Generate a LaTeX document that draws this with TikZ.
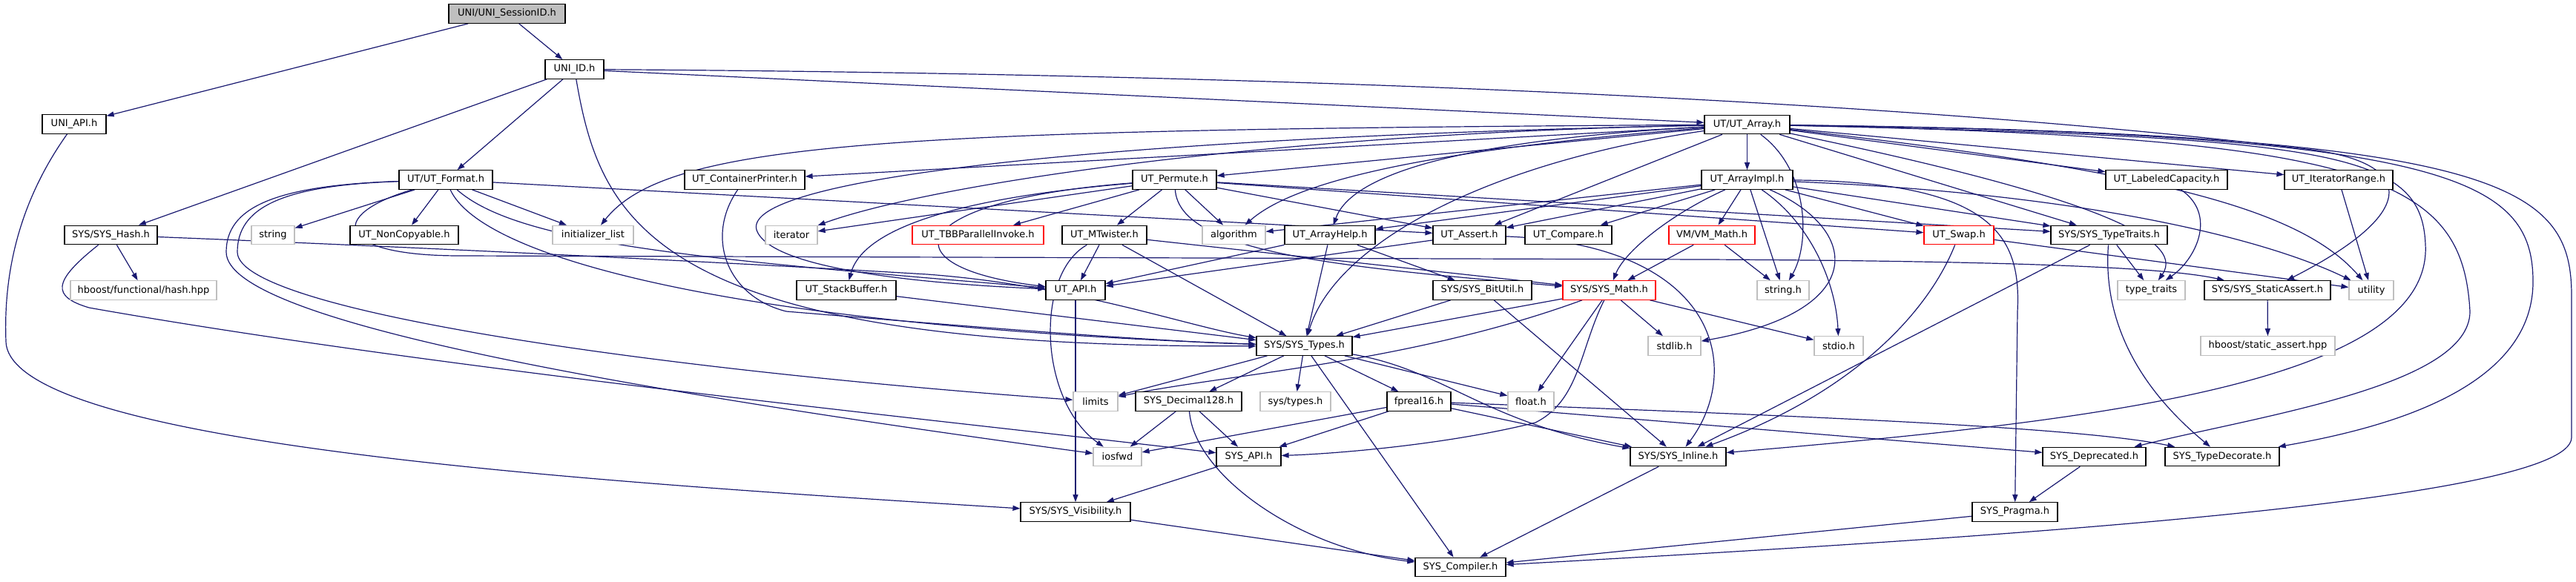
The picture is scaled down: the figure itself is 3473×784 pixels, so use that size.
\documentclass[tikz,border=0pt]{standalone}
\usepackage{fontspec}
\setmainfont{DejaVu Sans}
\usepackage{tikz}
\usetikzlibrary{arrows.meta,backgrounds}
\definecolor{edgeblue}{HTML}{191970}
\definecolor{sysgray}{HTML}{BFBFBF}
\newcommand{\Header}[6][hdr]{
\node [#1,minimum width=#5pt] (#2) at (#3,#4) {#6};
}
\tikzset{
hdr/.style={draw=black,text=black,line width=1.2pt,fill=white,minimum height=25.5pt,inner sep=2pt,font=\fontsize{13}{15}\selectfont},
syshdr/.style={hdr,draw=sysgray},
cuthdr/.style={hdr,draw=red},
roothdr/.style={hdr,fill=sysgray},
dep/.style={edgeblue,line width=1.2pt,-{Triangle[length=10pt,width=7pt]}}
}

\begin{document}
\begin{tikzpicture}[x=1pt,y=-1pt]
\useasboundingbox (0,0) rectangle (3473,784);
\Header[roothdr]{root}{683.5}{18.5}{157}{UNI/UNI\_SessionID.h}
\Header{uniid}{774.5}{93.5}{79}{UNI\_ID.h}
\Header{uniapi}{100}{167.5}{86}{UNI\_API.h}
\Header{utarray}{2355.5}{168}{115}{UT/UT\_Array.h}
\Header{utformat}{601}{242.5}{126}{UT/UT\_Format.h}
\Header{contprinter}{1004}{242.5}{162}{UT\_ContainerPrinter.h}
\Header{permute}{1583.5}{242.5}{113}{UT\_Permute.h}
\Header{arrayimpl}{2355.5}{242.5}{123}{UT\_ArrayImpl.h}
\Header{labeled}{2921}{242.5}{164}{UT\_LabeledCapacity.h}
\Header{iterrange}{3153}{242.5}{146}{UT\_IteratorRange.h}
\Header{syshash}{149.5}{317}{125}{SYS/SYS\_Hash.h}
\Header[syshdr]{stringn}{368}{317}{58}{string}
\Header{noncopy}{545}{317}{146}{UT\_NonCopyable.h}
\Header[syshdr]{initlist}{799.5}{317}{109}{initializer\_list}
\Header[syshdr]{iterator}{1067}{317}{70}{iterator}
\Header[cuthdr]{tbb}{1318.5}{317}{177}{UT\_TBBParallelInvoke.h}
\Header{mtwister}{1489}{317}{114}{UT\_MTwister.h}
\Header[syshdr]{algorithm}{1663.5}{317}{85}{algorithm}
\Header{arrayhelp}{1793}{317}{122}{UT\_ArrayHelp.h}
\Header{assert}{1981}{317}{98}{UT\_Assert.h}
\Header{compare}{2114.5}{317}{117}{UT\_Compare.h}
\Header[cuthdr]{vmmath}{2308}{317}{116}{VM/VM\_Math.h}
\Header[cuthdr]{swap}{2641}{317}{94}{UT\_Swap.h}
\Header{typetraits}{2843.5}{317}{157}{SYS/SYS\_TypeTraits.h}
\Header[syshdr]{hbhash}{193.5}{391.5}{197}{hboost/functional/hash.hpp}
\Header{stackbuf}{1141}{391.5}{134}{UT\_StackBuffer.h}
\Header{utapi}{1450}{391.5}{80}{UT\_API.h}
\Header{bitutil}{1998.5}{391.5}{133}{SYS/SYS\_BitUtil.h}
\Header[cuthdr]{sysmath}{2169.5}{391.5}{125}{SYS/SYS\_Math.h}
\Header[syshdr]{stringh}{2404}{391.5}{70}{string.h}
\Header[syshdr]{typetraitsh}{2900.5}{391.5}{91}{type\_traits}
\Header{staticassert}{3057}{391.5}{170}{SYS/SYS\_StaticAssert.h}
\Header[syshdr]{utility}{3197}{391.5}{60}{utility}
\Header{systypes}{1758.5}{466.5}{129}{SYS/SYS\_Types.h}
\Header[syshdr]{stdlib}{2257.5}{466.5}{71}{stdlib.h}
\Header[syshdr]{stdio}{2479}{466.5}{66}{stdio.h}
\Header[syshdr]{hbstatic}{3057.5}{466.5}{181}{hboost/static\_assert.hpp}
\Header[syshdr]{limits}{1477}{541.5}{60}{limits}
\Header{decimal}{1602.5}{541.5}{143}{SYS\_Decimal128.h}
\Header[syshdr]{systypesh}{1746.5}{541.5}{95}{sys/types.h}
\Header{fpreal}{1913}{541.5}{86}{fpreal16.h}
\Header[syshdr]{floath}{2064}{541.5}{62}{float.h}
\Header[syshdr]{iosfwd}{1506.5}{616}{65}{iosfwd}
\Header{sysapi}{1683.5}{616}{87}{SYS\_API.h}
\Header{inline}{2262.5}{616}{129}{SYS/SYS\_Inline.h}
\Header{deprecated}{2823.5}{616}{139}{SYS\_Deprecated.h}
\Header{typedecorate}{2996}{616}{154}{SYS\_TypeDecorate.h}
\Header{visibility}{1450}{690.5}{148}{SYS/SYS\_Visibility.h}
\Header{pragma}{2716.5}{690.5}{115}{SYS\_Pragma.h}
\Header{compiler}{1969}{765}{122}{SYS\_Compiler.h}

\begin{pgfonlayer}{background}
\draw [dep] (root) -- (uniapi);
\draw [dep] (root) -- (uniid);
\draw [dep] (uniapi) .. controls (20,280) and (5,380) .. (8,460) .. controls (10,600) and (800,650) .. (visibility);
\draw [dep] (uniid) -- (utformat);
\draw [dep] (uniid) -- (syshash);
\draw [dep] (uniid) .. controls (810,300) and (880,470) .. (systypes);
\draw [dep] (uniid) -- (utarray);
\draw [dep] (uniid) .. controls (1800,100) and (2600,140) .. (3100,200) .. controls (3250,215) and (3275,280) .. (staticassert);
\draw [dep] (utformat) -- (stringn);
\draw [dep] (utformat) -- (noncopy);
\draw [dep] (utformat) -- (initlist);
\draw [dep] (utformat) -- (assert);
\draw [dep] (utformat) .. controls (380,250) and (320,280) .. (320,340) .. controls (320,420) and (900,500) .. (limits);
\draw [dep] (utformat) .. controls (370,250) and (305,280) .. (305,340) .. controls (305,430) and (800,520) .. (iosfwd);
\draw [dep] (utformat) .. controls (440,290) and (450,345) .. (620,345) -- (2300,350) .. controls (2700,352) and (2920,360) .. (staticassert);
\draw [dep] (utformat) .. controls (700,330) and (950,350) .. (utapi);
\draw [dep] (utformat) .. controls (650,350) and (1000,440) .. (systypes);
\draw [dep] (syshash) -- (hbhash);
\draw [dep] (syshash) .. controls (70,380) and (70,400) .. (120,415) .. controls (600,500) and (1300,570) .. (sysapi);
\draw [dep] (syshash) .. controls (600,335) and (1000,355) .. (1250,370) .. controls (1450,385) and (1600,440) .. (systypes);
\draw [dep] (contprinter) .. controls (950,320) and (980,400) .. (1060,420) .. controls (1300,440) and (1550,460) .. (systypes);
\draw [dep] (utarray) -- (arrayimpl);
\draw [dep] (utarray) -- (labeled);
\draw [dep] (utarray) -- (iterrange);
\draw [dep] (utarray) -- (contprinter);
\draw [dep] (utarray) -- (permute);
\draw [dep] (utarray) .. controls (1200,175) and (900,190) .. (initlist);
\draw [dep] (utarray) .. controls (1700,180) and (1250,250) .. (iterator);
\draw [dep] (utarray) .. controls (1950,200) and (1750,240) .. (algorithm);
\draw [dep] (utarray) .. controls (1950,190) and (1820,240) .. (arrayhelp);
\draw [dep] (utarray) -- (assert);
\draw [dep] (utarray) .. controls (1500,185) and (1000,240) .. (1020,310) .. controls (1040,370) and (1300,385) .. (utapi);
\draw [dep] (utarray) .. controls (2000,220) and (1800,330) .. (systypes);
\draw [dep] (utarray) -- (typetraits);
\draw [dep] (utarray) .. controls (2440,230) and (2440,330) .. (stringh);
\draw [dep] (utarray) .. controls (2800,260) and (2950,320) .. (typetraitsh);
\draw [dep] (utarray) .. controls (2900,230) and (3100,280) .. (utility);
\draw [dep] (utarray) .. controls (3150,185) and (3265,205) .. (3270,330) .. controls (3280,520) and (2800,570) .. (inline);
\draw [dep] (utarray) .. controls (3200,185) and (3320,240) .. (3330,420) .. controls (3330,520) and (3050,560) .. (deprecated);
\draw [dep] (utarray) .. controls (3300,180) and (3415,240) .. (3415,380) .. controls (3415,530) and (3200,580) .. (typedecorate);
\draw [dep] (utarray) .. controls (3380,180) and (3467,250) .. (3467,400) -- (3467,590) .. controls (3467,680) and (2600,730) .. (compiler);
\draw [dep] (arrayimpl) -- (algorithm);
\draw [dep] (arrayimpl) -- (arrayhelp);
\draw [dep] (arrayimpl) -- (assert);
\draw [dep] (arrayimpl) -- (compare);
\draw [dep] (arrayimpl) -- (vmmath);
\draw [dep] (arrayimpl) .. controls (2250,290) and (2190,340) .. (sysmath);
\draw [dep] (arrayimpl) -- (swap);
\draw [dep] (arrayimpl) -- (typetraits);
\draw [dep] (arrayimpl) -- (stringh);
\draw [dep] (arrayimpl) .. controls (2440,300) and (2475,380) .. (stdio);
\draw [dep] (arrayimpl) .. controls (2510,310) and (2520,420) .. (stdlib);
\draw [dep] (arrayimpl) .. controls (2690,245) and (2725,320) .. (2720,420) -- (pragma);
\draw [dep] (arrayimpl) .. controls (2800,260) and (3050,320) .. (utility);
\draw [dep] (permute) -- (tbb);
\draw [dep] (permute) -- (mtwister);
\draw [dep] (permute) -- (algorithm);
\draw [dep] (permute) -- (assert);
\draw [dep] (permute) -- (iterator);
\draw [dep] (permute) .. controls (1250,270) and (1160,320) .. (stackbuf);
\draw [dep] (permute) .. controls (1220,270) and (1190,360) .. (utapi);
\draw [dep] (permute) .. controls (1590,340) and (1800,360) .. (sysmath);
\draw [dep] (permute) -- (typetraits);
\draw [dep] (permute) -- (swap);
\draw [dep] (mtwister) -- (utapi);
\draw [dep] (mtwister) -- (systypes);
\draw [dep] (mtwister) -- (sysmath);
\draw [dep] (mtwister) .. controls (1395,370) and (1400,540) .. (iosfwd);
\draw [dep] (arrayhelp) -- (utapi);
\draw [dep] (arrayhelp) -- (systypes);
\draw [dep] (arrayhelp) -- (bitutil);
\draw [dep] (assert) -- (utapi);
\draw [dep] (assert) .. controls (2320,330) and (2350,500) .. (inline);
\draw [dep] (vmmath) -- (sysmath);
\draw [dep] (vmmath) -- (stringh);
\draw [dep] (swap) -- (utility);
\draw [dep] (swap) .. controls (2600,420) and (2500,530) .. (inline);
\draw [dep] (typetraits) -- (typetraitsh);
\draw [dep] (typetraits) -- (inline);
\draw [dep] (typetraits) .. controls (2835,430) and (2880,520) .. (typedecorate);
\draw [dep] (labeled) .. controls (2990,290) and (2960,350) .. (typetraitsh);
\draw [dep] (iterrange) -- (utility);
\draw [dep] (staticassert) -- (hbstatic);
\draw [dep] (stackbuf) -- (systypes);
\draw [dep] (utapi) -- (visibility);
\draw [dep] (bitutil) -- (systypes);
\draw [dep] (bitutil) -- (inline);
\draw [dep] (sysmath) -- (systypes);
\draw [dep] (sysmath) .. controls (1900,490) and (1650,505) .. (limits);
\draw [dep] (sysmath) -- (floath);
\draw [dep] (sysmath) -- (stdlib);
\draw [dep] (sysmath) -- (stdio);
\draw [dep] (sysmath) .. controls (2130,470) and (2130,540) .. (2070,570) .. controls (1950,600) and (1800,612) .. (sysapi);
\draw [dep] (systypes) -- (limits);
\draw [dep] (systypes) -- (decimal);
\draw [dep] (systypes) -- (systypesh);
\draw [dep] (systypes) -- (fpreal);
\draw [dep] (systypes) -- (floath);
\draw [dep] (systypes) -- (compiler);
\draw [dep] (systypes) .. controls (1950,500) and (2000,570) .. (inline);
\draw [dep] (decimal) -- (iosfwd);
\draw [dep] (decimal) -- (sysapi);
\draw [dep] (decimal) .. controls (1610,640) and (1750,740) .. (compiler);
\draw [dep] (fpreal) -- (iosfwd);
\draw [dep] (fpreal) -- (sysapi);
\draw [dep] (fpreal) -- (inline);
\draw [dep] (fpreal) -- (deprecated);
\draw [dep] (fpreal) .. controls (2400,560) and (2800,575) .. (typedecorate);
\draw [dep] (sysapi) -- (visibility);
\draw [dep] (visibility) -- (compiler);
\draw [dep] (inline) -- (compiler);
\draw [dep] (deprecated) -- (pragma);
\draw [dep] (pragma) -- (compiler);
\end{pgfonlayer}
\end{tikzpicture}
\end{document}
